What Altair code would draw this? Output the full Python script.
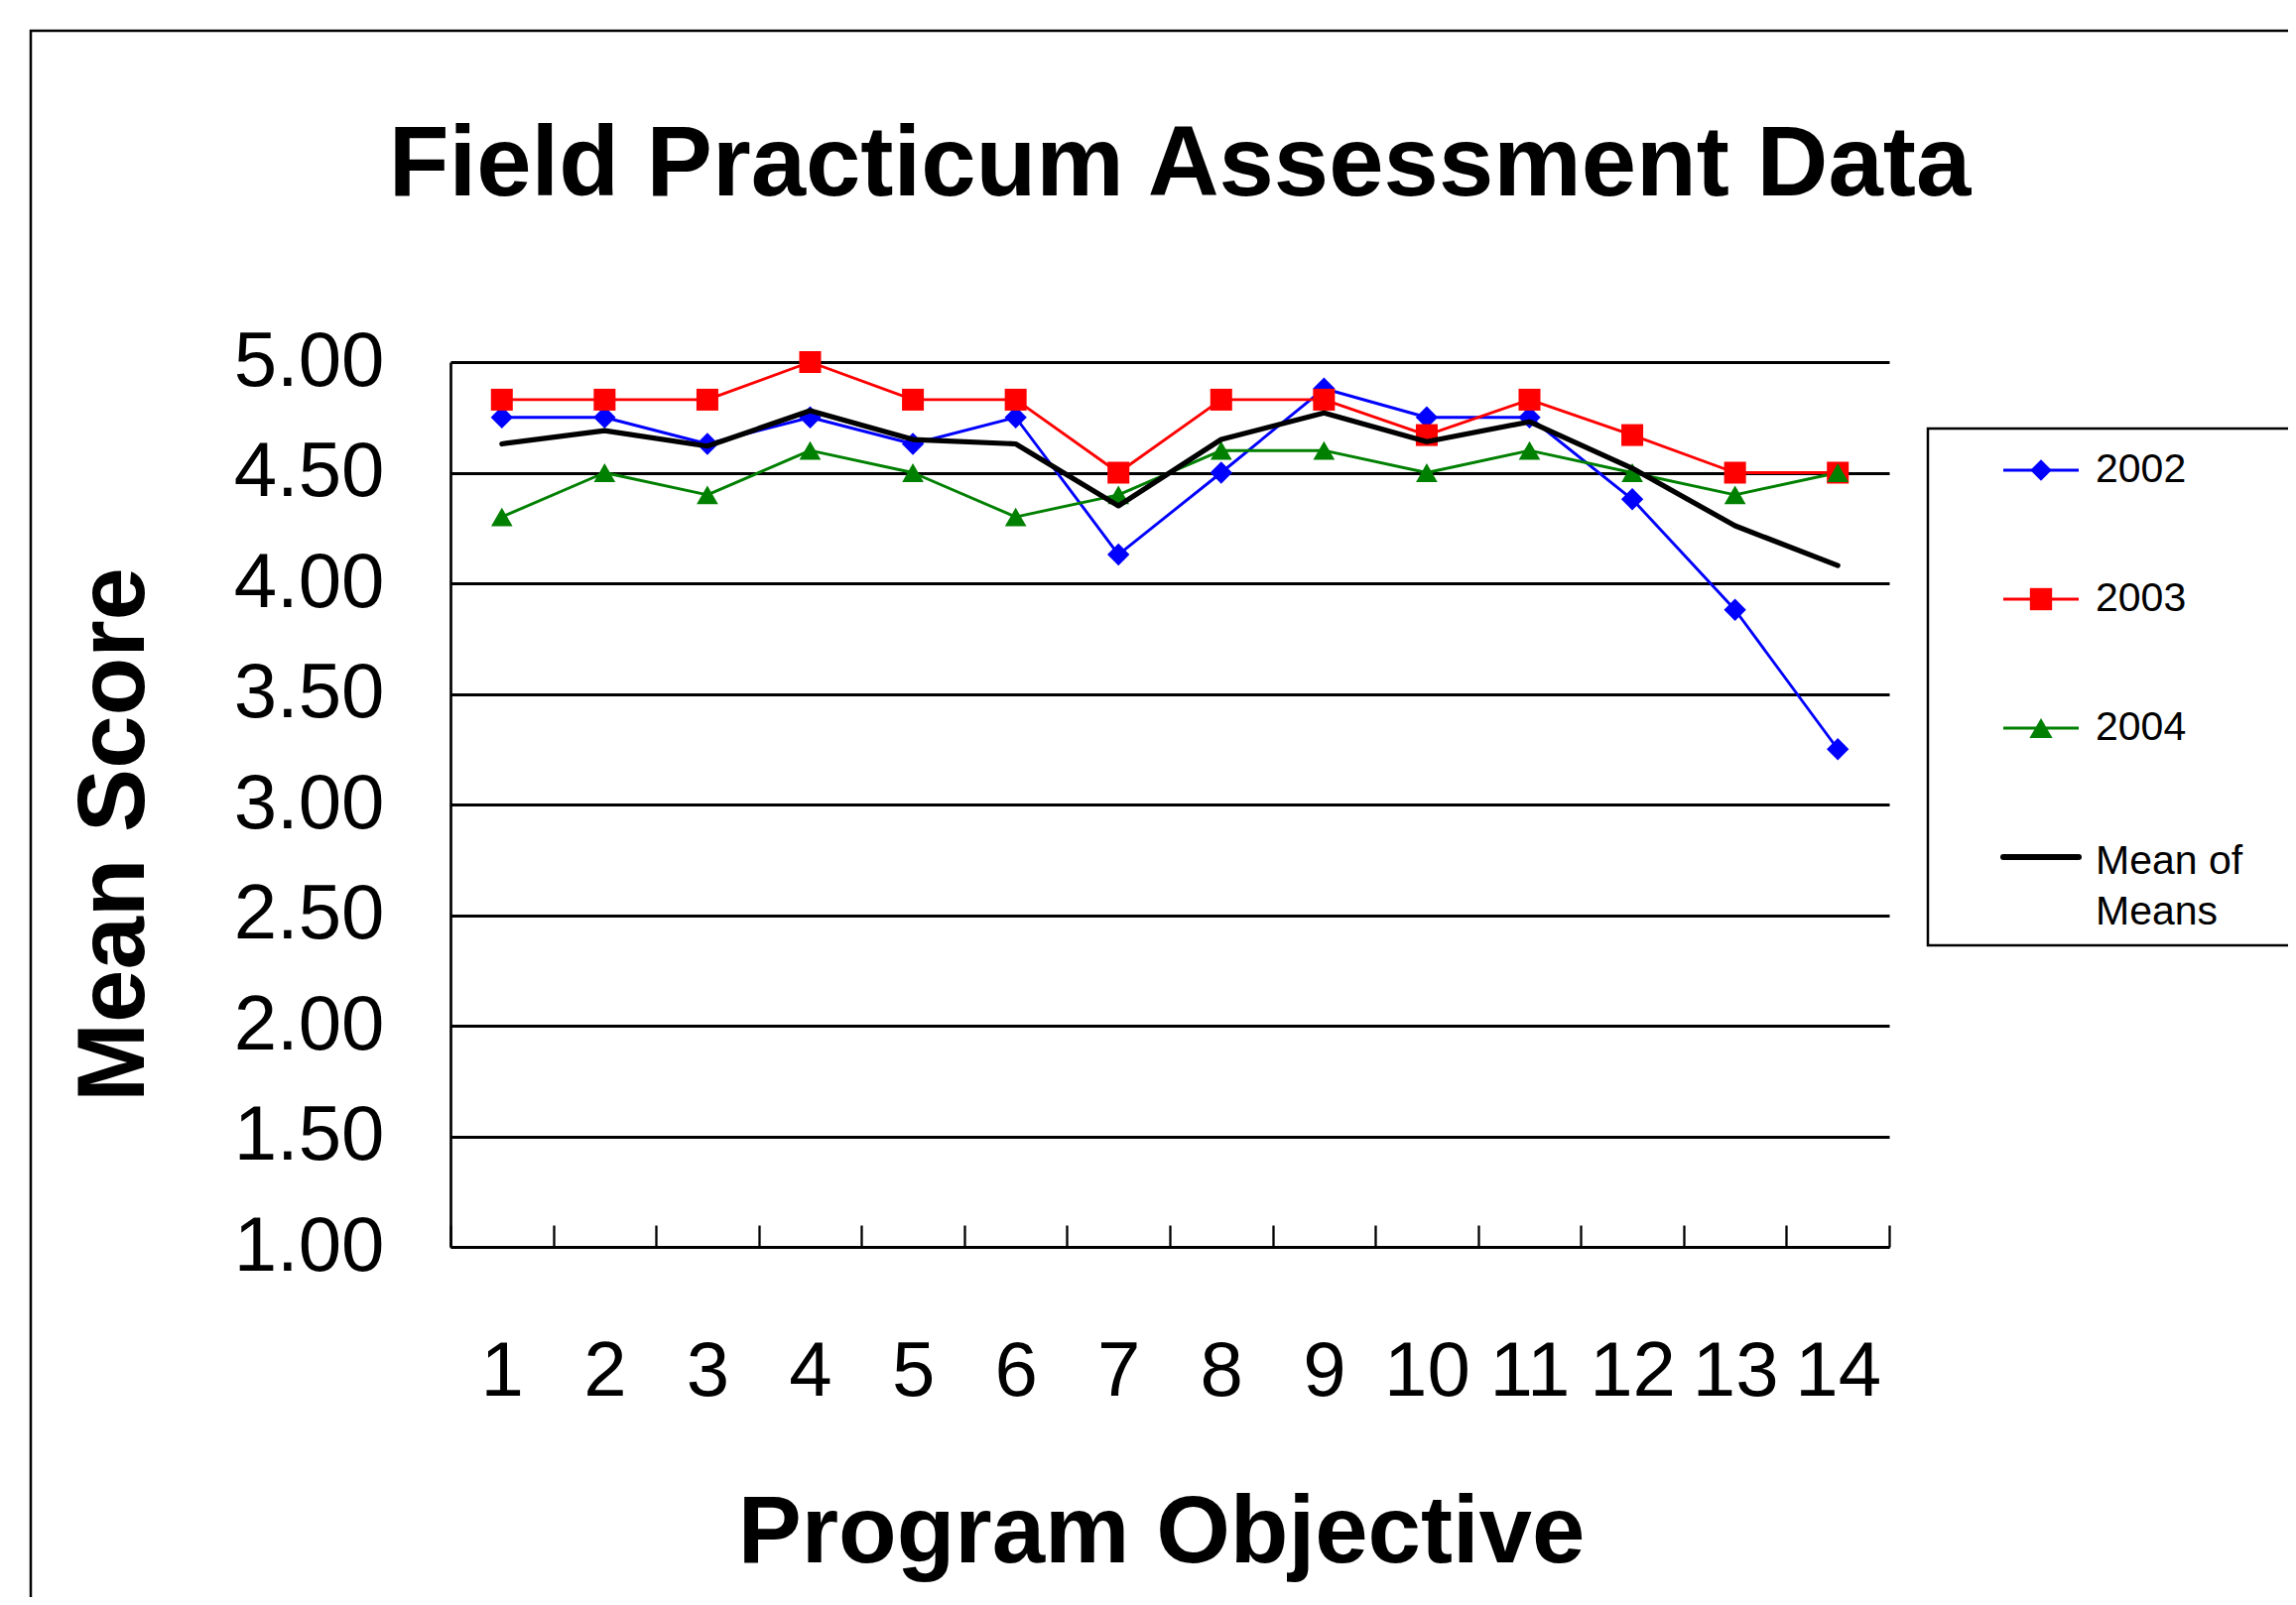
import altair as alt
import pandas as pd

# ---- data ----
objectives = [1, 2, 3, 4, 5, 6, 7, 8, 9, 10, 11, 12, 13, 14]
y2002 = [4.75, 4.75, 4.63, 4.75, 4.63, 4.75, 4.13, 4.50, 4.88, 4.75, 4.75, 4.38, 3.88, 3.25]
y2003 = [4.83, 4.83, 4.83, 5.00, 4.83, 4.83, 4.50, 4.83, 4.83, 4.67, 4.83, 4.67, 4.50, 4.50]
y2004 = [4.30, 4.50, 4.40, 4.60, 4.50, 4.30, 4.40, 4.60, 4.60, 4.50, 4.60, 4.50, 4.40, 4.50]
mean_of_means = [4.63, 4.69, 4.62, 4.78, 4.65, 4.63, 4.35, 4.65, 4.77, 4.64, 4.73, 4.52, 4.26, 4.08]

series_names = ["2002", "2003", "2004", "Mean of Means"]
year_names = ["2002", "2003", "2004"]
y_ticks = [1.0, 1.5, 2.0, 2.5, 3.0, 3.5, 4.0, 4.5, 5.0]

title_text = "Field Practicum Assessment Data"
x_title = "Program Objective"
y_title = "Mean Score"

# ---- styles ----
colors = ["#0000FF", "#FF0000", "#008000", "#000000"]
shapes = ["diamond", "square", "triangle-up"]
FONT = "Liberation Sans"

rows = []
for name, vals in zip(series_names, [y2002, y2003, y2004, mean_of_means]):
    for o, v in zip(objectives, vals):
        rows.append({"objective": o, "series": name, "score": v})
df = pd.DataFrame(rows)

legend_df = pd.DataFrame({"series": series_names,
                          "label": ["2002", "2003", "2004", "Mean of\nMeans"]})
one = pd.DataFrame({"k": [0]})

W, H = 1450, 892
TICK_LEN = 22

color_scale = alt.Scale(domain=series_names, range=colors)
shape_scale = alt.Scale(domain=year_names, range=shapes)

x_axis = alt.Axis(
    labelAngle=0, labelFontSize=78, labelColor="black", labelFont=FONT,
    labelBaseline="alphabetic", labelPadding=149,
    ticks=False, domainColor="black", domainWidth=2.7,
    grid=True, gridColor="black", gridWidth=2.3, gridOpacity=1,
    gridDash=[0, H - TICK_LEN, TICK_LEN, 3000],
    tickBand="extent",
    title=x_title, titleFontSize=96, titleFontWeight="bold", titleFont=FONT,
    titleColor="black", titleX=716, titleY=317, titleBaseline="alphabetic",
    titleAlign="center",
)
x_enc = alt.X("objective:O", sort=objectives,
              scale=alt.Scale(type="band", paddingInner=0, paddingOuter=0),
              axis=x_axis)

y_scale = alt.Scale(domain=[1, 5], nice=False, zero=False)
y_axis = alt.Axis(
    values=y_ticks, format=".2f", labelFontSize=78, labelColor="black", labelFont=FONT,
    labelPadding=67, ticks=False, domainColor="black", domainWidth=2.7,
    grid=True, gridColor="black", gridWidth=3, gridOpacity=1,
    title=y_title, titleFontSize=96, titleFontWeight="bold", titleFont=FONT,
    titleColor="black", titleX=-339, titleY=476, titleBaseline="middle",
    titleAlign="center", titleAngle=270,
)

base = alt.Chart(df)

frame = alt.Chart(one).mark_rect(fill=None, fillOpacity=0, stroke="black", strokeWidth=2.5).encode(
    x=alt.value(-423), x2=alt.value(1960), y=alt.value(-334), y2=alt.value(1340))

year_lines = base.transform_filter(
    alt.FieldOneOfPredicate(field="series", oneOf=year_names)
).mark_line(strokeWidth=2.9, strokeJoin="round").encode(
    x=x_enc,
    y=alt.Y("score:Q", scale=y_scale, axis=y_axis),
    color=alt.Color("series:N", scale=color_scale, legend=None),
    detail="series:N",
)

year_points = base.transform_filter(
    alt.FieldOneOfPredicate(field="series", oneOf=year_names)
).mark_point(filled=True, opacity=1, strokeWidth=1).encode(
    x=x_enc,
    y=alt.Y("score:Q", scale=y_scale, axis=None),
    color=alt.Color("series:N", scale=color_scale, legend=None),
    shape=alt.Shape("series:N", scale=shape_scale, legend=None),
    size=alt.Size("series:N", scale=alt.Scale(domain=year_names, range=[500, 470, 720]),
                  legend=None),
)

mean_line = base.transform_filter(
    alt.FieldEqualPredicate(field="series", equal="Mean of Means")
).mark_line(strokeWidth=5.2, strokeJoin="round", strokeCap="round").encode(
    x=x_enc,
    y=alt.Y("score:Q", scale=y_scale, axis=None),
    color=alt.Color("series:N", scale=color_scale, legend=None),
)

# ---- legend (built from the series list) ----
leg_y_scale = alt.Scale(type="point", domain=series_names, range=[109, 499], padding=0)
leg_base = alt.Chart(legend_df)

legend_box = alt.Chart(one).mark_rect(fill="white", stroke="black", strokeWidth=2.5).encode(
    x=alt.value(1489), x2=alt.value(1960), y=alt.value(67), y2=alt.value(588))

leg_year_rules = leg_base.transform_filter(
    alt.FieldOneOfPredicate(field="series", oneOf=year_names)
).mark_rule(strokeWidth=2.8).encode(
    x=alt.value(1565), x2=alt.value(1641),
    y=alt.Y("series:N", scale=leg_y_scale, axis=None),
    color=alt.Color("series:N", scale=color_scale, legend=None),
)

leg_mean_rule = leg_base.transform_filter(
    alt.FieldEqualPredicate(field="series", equal="Mean of Means")
).mark_rule(strokeWidth=6, strokeCap="round").encode(
    x=alt.value(1565), x2=alt.value(1641),
    y=alt.Y("series:N", scale=leg_y_scale, axis=None),
    color=alt.Color("series:N", scale=color_scale, legend=None),
)

leg_points = leg_base.transform_filter(
    alt.FieldOneOfPredicate(field="series", oneOf=year_names)
).mark_point(filled=True, opacity=1, strokeWidth=1).encode(
    x=alt.value(1603),
    y=alt.Y("series:N", scale=leg_y_scale, axis=None),
    color=alt.Color("series:N", scale=color_scale, legend=None),
    shape=alt.Shape("series:N", scale=shape_scale, legend=None),
    size=alt.Size("series:N", scale=alt.Scale(domain=year_names, range=[460, 540, 600]),
                  legend=None),
)

leg_labels = leg_base.transform_filter(
    alt.FieldOneOfPredicate(field="series", oneOf=year_names)
).mark_text(align="left", baseline="middle", fontSize=41, font=FONT, color="black").encode(
    x=alt.value(1658),
    y=alt.Y("series:N", scale=leg_y_scale, axis=None),
    text="label:N",
)

leg_mean_label = leg_base.transform_filter(
    alt.FieldEqualPredicate(field="series", equal="Mean of Means")
).mark_text(align="left", baseline="middle", fontSize=41, font=FONT, color="black",
            lineBreak="\n", lineHeight=51, dy=5).encode(
    x=alt.value(1658),
    y=alt.Y("series:N", scale=leg_y_scale, axis=None),
    text="label:N",
)

chart = alt.layer(
    frame, year_lines, year_points, mean_line,
    legend_box, leg_year_rules, leg_mean_rule, leg_points, leg_labels, leg_mean_label,
).resolve_scale(
    y="independent", size="independent"
).properties(
    width=W, height=H,
    title=alt.TitleParams(title_text, fontSize=99.5, fontWeight="bold", font=FONT,
                          color="black", anchor="middle", frame="group",
                          baseline="alphabetic", offset=-267, dx=10),
    autosize=alt.AutoSizeParams(type="none"),
    padding={"left": 446, "top": 357, "right": 402, "bottom": 353},
).configure(font=FONT).configure_view(stroke="transparent", strokeWidth=0)

chart.save("out.html", embed_options={"renderer": "svg", "actions": False})
